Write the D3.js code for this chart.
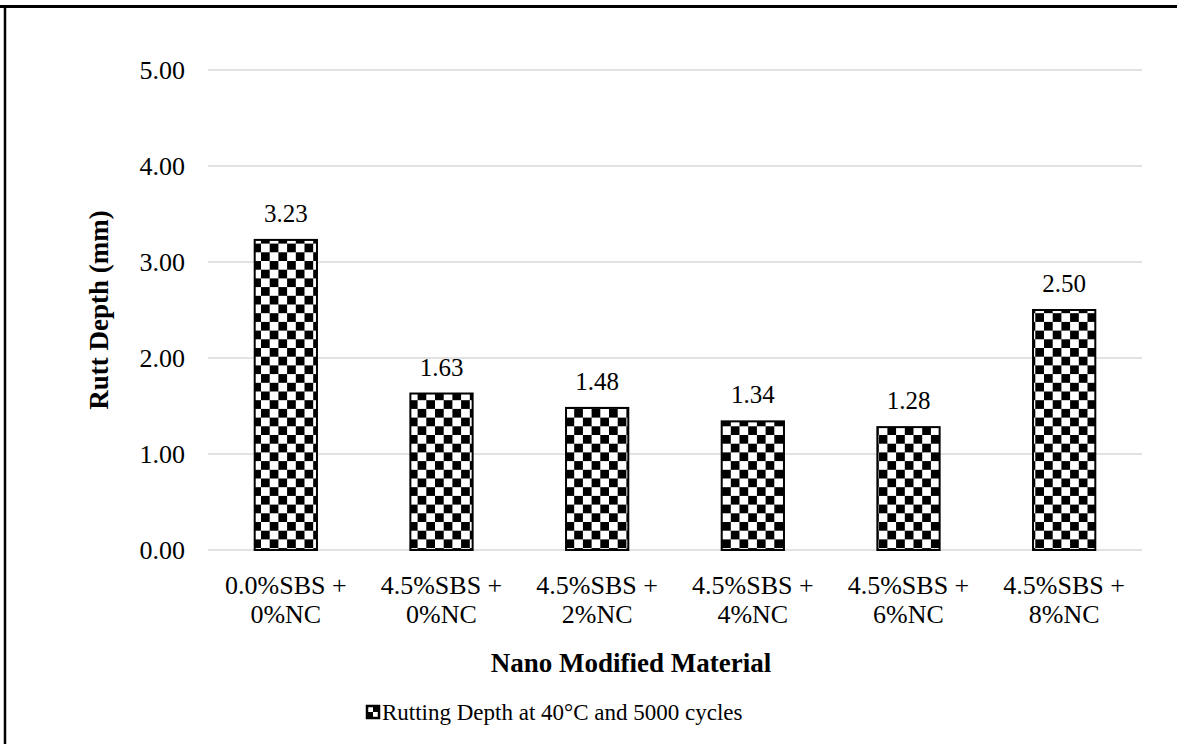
<!DOCTYPE html>
<html>
<head>
<meta charset="utf-8">
<script src="https://cdn.jsdelivr.net/npm/d3@7"></script>
<style>
  html, body { margin: 0; padding: 0; background: #fff; }
  svg { display: block; font-family: "Liberation Serif", "Times New Roman", serif; }
</style>
</head>
<body>
<svg id="chart" width="1177" height="744"></svg>
<script>
// Rutting depth per mix
const categories = [
  ["0.0%SBS +", "0%NC"],
  ["4.5%SBS +", "0%NC"],
  ["4.5%SBS +", "2%NC"],
  ["4.5%SBS +", "4%NC"],
  ["4.5%SBS +", "6%NC"],
  ["4.5%SBS +", "8%NC"]
];
const rutDepth = [3.23, 1.63, 1.48, 1.34, 1.28, 2.50];
const yTicks = [0, 1, 2, 3, 4, 5];
const seriesName = "Rutting Depth at 40°C and 5000 cycles";
const xTitle = "Nano Modified Material";
const yTitle = "Rutt Depth (mm)";

const svg = d3.select("#chart");
const W = 1177, H = 744;
const plot = { left: 208, right: 1142, top: 70, bottom: 550 };

// Outer frame (top and left edges visible)
svg.append("line").attr("x1", 0).attr("x2", W).attr("y1", 6.5).attr("y2", 6.5)
  .attr("stroke", "#000").attr("stroke-width", 3);
svg.append("line").attr("x1", 5).attr("x2", 5).attr("y1", 5).attr("y2", H)
  .attr("stroke", "#000").attr("stroke-width", 2.5);

// Checkerboard fill
const sq = 8.7;
const defs = svg.append("defs");
const pat = defs.append("pattern").attr("id", "checker")
  .attr("patternUnits", "userSpaceOnUse")
  .attr("width", sq * 2).attr("height", sq * 2);
pat.append("rect").attr("width", sq * 2).attr("height", sq * 2).attr("fill", "#fff");
pat.append("rect").attr("x", sq).attr("y", 0).attr("width", sq).attr("height", sq).attr("fill", "#000");
pat.append("rect").attr("x", 0).attr("y", sq).attr("width", sq).attr("height", sq).attr("fill", "#000");

const x = d3.scaleBand()
  .domain(d3.range(categories.length))
  .range([plot.left, plot.right])
  .paddingInner(0.6).paddingOuter(0.3);
const y = d3.scaleLinear().domain([0, 5]).range([plot.bottom, plot.top]);

// Gridlines
svg.append("g").selectAll("line").data(yTicks).join("line")
  .attr("x1", plot.left).attr("x2", plot.right)
  .attr("y1", d => y(d)).attr("y2", d => y(d))
  .attr("stroke", "#d9d9d9").attr("stroke-width", 1.5);

// Y tick labels
const yAxis = d3.axisLeft(y).tickValues(yTicks).tickFormat(d3.format(".2f")).tickSize(0).tickPadding(0);
const yg = svg.append("g").attr("transform", `translate(${plot.left - 23},0)`).call(yAxis);
yg.select(".domain").remove();
yg.selectAll("text").attr("font-size", 26).attr("fill", "#000").attr("dy", "0.34em")
  .attr("font-family", "Liberation Serif, Times New Roman, serif");

// Bars
svg.append("g").selectAll("rect").data(rutDepth).join("rect")
  .attr("x", (d, i) => x(i)).attr("width", x.bandwidth())
  .attr("y", d => y(d)).attr("height", d => y(0) - y(d))
  .attr("fill", "url(#checker)")
  .attr("stroke", "#000").attr("stroke-width", 2);

// Value labels
svg.append("g").selectAll("text").data(rutDepth).join("text")
  .attr("x", (d, i) => x(i) + x.bandwidth() / 2)
  .attr("y", d => y(d) - 18)
  .attr("text-anchor", "middle").attr("font-size", 25).attr("fill", "#000")
  .text(d => d.toFixed(2));

// Category labels (two lines)
const xl = svg.append("g").selectAll("text").data(categories).join("text")
  .attr("x", (d, i) => x(i) + x.bandwidth() / 2)
  .attr("y", 594)
  .attr("text-anchor", "middle").attr("font-size", 26).attr("fill", "#000");
xl.append("tspan").attr("x", (d, i) => x(i) + x.bandwidth() / 2).text(d => d[0]);
xl.append("tspan").attr("x", (d, i) => x(i) + x.bandwidth() / 2).attr("dy", 29).text(d => d[1]);

// Axis titles
svg.append("text").attr("x", 631).attr("y", 672)
  .attr("text-anchor", "middle").attr("font-size", 27).attr("font-weight", "bold").text(xTitle);
svg.append("text").attr("transform", `translate(108,${(plot.top + plot.bottom) / 2}) rotate(-90)`)
  .attr("text-anchor", "middle").attr("font-size", 27).attr("font-weight", "bold").text(yTitle);

// Legend: small checker swatch plus series name
const lg = svg.append("g").attr("transform", "translate(367,706)");
const sw = 12, half = sw / 2;
lg.append("rect").attr("width", sw).attr("height", sw).attr("fill", "#fff");
lg.append("rect").attr("x", half).attr("y", 0).attr("width", half).attr("height", half).attr("fill", "#000");
lg.append("rect").attr("x", 0).attr("y", half).attr("width", half).attr("height", half).attr("fill", "#000");
lg.append("rect").attr("width", sw).attr("height", sw).attr("fill", "none")
  .attr("stroke", "#000").attr("stroke-width", 2.5);
lg.append("text").attr("x", 15).attr("y", 13.5).attr("font-size", 23).text(seriesName);
</script>
</body>
</html>
